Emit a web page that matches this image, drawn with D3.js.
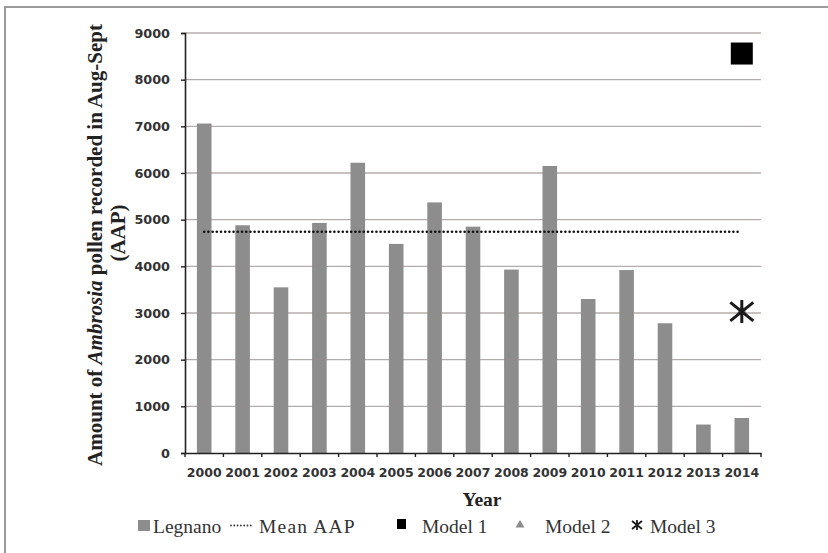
<!DOCTYPE html>
<html>
<head>
<meta charset="utf-8">
<script src="https://cdn.jsdelivr.net/npm/d3@7"></script>
<style>
  body { margin: 0; background: #fff; }
  svg { display: block; }
</style>
</head>
<body>
<div id="chart"></div>
<script>
// values
let years = ['2000', '2001', '2002', '2003', '2004', '2005', '2006', '2007',
  '2008', '2009', '2010', '2011', '2012', '2013', '2014']
let legnano = [7060, 4880, 3550, 4930, 6220, 4480, 5370, 4850, 3930, 6150, 3300, 3920, 2780, 610, 750]
let meanAAP = 4740
let model1 = [{ year: '2014', value: 8560 }]
let model2 = [{ year: '2014', value: 3030 }]
let model3 = [{ year: '2014', value: 3030 }]
let yTicks = [0, 1000, 2000, 3000, 4000, 5000, 6000, 7000, 8000, 9000]

let width = 828, height = 553
let plotLeft = 185, plotRight = 761, plotTop = 33, plotBottom = 453

let svg = d3.select('#chart').append('svg')
  .attr('width', width)
  .attr('height', height)

// frame round the figure
svg.append('rect')
  .attr('x', 5).attr('y', 7)
  .attr('width', 840).attr('height', 570)
  .attr('fill', 'none')
  .attr('stroke', '#9a9a9a')
  .attr('stroke-width', 2)

let x = d3.scaleBand()
  .domain(years)
  .range([plotLeft, plotRight])
  .paddingInner(0.62)
  .paddingOuter(0.31)

let y = d3.scaleLinear()
  .domain([0, 9000])
  .range([plotBottom, plotTop])

let center = d => x(d) + x.bandwidth() / 2

// gridlines
svg.append('g')
  .selectAll('line')
  .data(yTicks.filter(t => t > 0))
  .join('line')
  .attr('x1', plotLeft).attr('x2', plotRight)
  .attr('y1', d => y(d)).attr('y2', d => y(d))
  .attr('stroke', '#b4acab')
  .attr('stroke-width', 1.3)

// bars
svg.append('g')
  .selectAll('rect')
  .data(years)
  .join('rect')
  .attr('x', d => x(d))
  .attr('width', x.bandwidth())
  .attr('y', (d, i) => y(legnano[i]))
  .attr('height', (d, i) => y(0) - y(legnano[i]))
  .attr('fill', '#8d8d8d')

// mean line, round dots
svg.append('line')
  .attr('x1', center(years[0]))
  .attr('x2', center(years[years.length - 1]) - 4)
  .attr('y1', y(meanAAP)).attr('y2', y(meanAAP))
  .attr('stroke', '#111')
  .attr('stroke-width', 2.6)
  .attr('stroke-linecap', 'round')
  .attr('stroke-dasharray', '0,4.2')

// y axis
let yAxis = svg.append('g')
  .attr('transform', `translate(${plotLeft},0)`)
  .call(d3.axisLeft(y).tickValues(yTicks).tickFormat(d3.format('d')).tickSize(4).tickPadding(11))
yAxis.select('.domain').attr('stroke', '#222').attr('stroke-width', 1.6)
yAxis.selectAll('.tick line').attr('stroke', '#222').attr('stroke-width', 1.4)
yAxis.selectAll('text')
  .attr('font-family', 'DejaVu Sans')
  .attr('font-weight', 'bold')
  .attr('font-size', 12.8)
  .attr('fill', '#333')

// x axis
let xAxis = svg.append('g')
  .attr('transform', `translate(0,${plotBottom})`)
  .call(d3.axisBottom(x).tickSize(0).tickPadding(15))
xAxis.select('.domain').attr('stroke', '#222').attr('stroke-width', 1.6)
xAxis.selectAll('text')
  .attr('font-family', 'DejaVu Sans')
  .attr('font-weight', 'bold')
  .attr('font-size', 12.5)
  .attr('fill', '#333')
xAxis.selectAll('.boundary')
  .data(d3.range(years.length + 1))
  .join('line')
  .attr('x1', i => plotLeft + i * x.step())
  .attr('x2', i => plotLeft + i * x.step())
  .attr('y1', 0).attr('y2', 4)
  .attr('stroke', '#222')
  .attr('stroke-width', 1.4)

// model markers
svg.append('g')
  .selectAll('path')
  .data(model2)
  .join('path')
  .attr('d', d3.symbol(d3.symbolTriangle, 60))
  .attr('transform', d => `translate(${center(d.year)},${y(d.value)})`)
  .attr('fill', '#8a8a8a')

svg.append('g')
  .selectAll('rect')
  .data(model1)
  .join('rect')
  .attr('x', d => center(d.year) - 11)
  .attr('y', d => y(d.value) - 11)
  .attr('width', 22).attr('height', 22)
  .attr('fill', '#000')

function asterisk(g, cx, cy, r, w) {
  g.append('path')
    .attr('d', `M${cx},${cy - r}L${cx},${cy + r}` +
      `M${cx - r},${cy - r * 0.8}L${cx + r},${cy + r * 0.8}` +
      `M${cx - r},${cy + r * 0.8}L${cx + r},${cy - r * 0.8}`)
    .attr('stroke', '#1a1a1a')
    .attr('stroke-width', w)
    .attr('fill', 'none')
}
model3.forEach(d => asterisk(svg.append('g'), center(d.year), y(d.value), 11.5, 3))

// y axis title
let yTitle = svg.append('text')
  .attr('transform', 'translate(102,245) rotate(-90)')
  .attr('text-anchor', 'middle')
  .attr('font-family', 'Liberation Serif')
  .attr('font-weight', 'bold')
  .attr('font-size', 21)
  .attr('fill', '#222')
yTitle.append('tspan').text('Amount of ')
yTitle.append('tspan').attr('font-style', 'italic').text('Ambrosia')
yTitle.append('tspan').text(' pollen recorded in Aug-Sept')

svg.append('text')
  .attr('transform', 'translate(125,233) rotate(-90)')
  .attr('text-anchor', 'middle')
  .attr('font-family', 'Liberation Serif')
  .attr('font-weight', 'bold')
  .attr('font-size', 21)
  .attr('fill', '#222')
  .text('(AAP)')

// x axis title
svg.append('text')
  .attr('x', 482).attr('y', 506)
  .attr('text-anchor', 'middle')
  .attr('font-family', 'Liberation Serif')
  .attr('font-weight', 'bold')
  .attr('font-size', 19.5)
  .attr('fill', '#222')
  .text('Year')

// legend
let legendY = 533
let legend = svg.append('g')
  .attr('font-family', 'Liberation Serif')
  .attr('font-size', 19.5)
  .attr('fill', '#333')

legend.append('rect')
  .attr('x', 138).attr('y', 520)
  .attr('width', 12).attr('height', 11)
  .attr('fill', '#8d8d8d')
legend.append('text').attr('x', 153).attr('y', legendY).text('Legnano')

legend.append('line')
  .attr('x1', 231).attr('x2', 254)
  .attr('y1', 525.5).attr('y2', 525.5)
  .attr('stroke', '#333')
  .attr('stroke-width', 1.8)
  .attr('stroke-linecap', 'round')
  .attr('stroke-dasharray', '0,3.3')
legend.append('text').attr('x', 259).attr('y', legendY)
  .attr('letter-spacing', 1.2).text('Mean AAP')

legend.append('rect')
  .attr('x', 397).attr('y', 519)
  .attr('width', 9).attr('height', 10)
  .attr('fill', '#000')
legend.append('text').attr('x', 422).attr('y', legendY).text('Model 1')

legend.append('path')
  .attr('d', d3.symbol(d3.symbolTriangle, 34))
  .attr('transform', 'translate(520,525)')
  .attr('fill', '#8a8a8a')
legend.append('text').attr('x', 545).attr('y', legendY).text('Model 2')

asterisk(legend, 637, 525, 5, 1.8)
legend.append('text').attr('x', 650).attr('y', legendY).text('Model 3')
</script>
</body>
</html>
